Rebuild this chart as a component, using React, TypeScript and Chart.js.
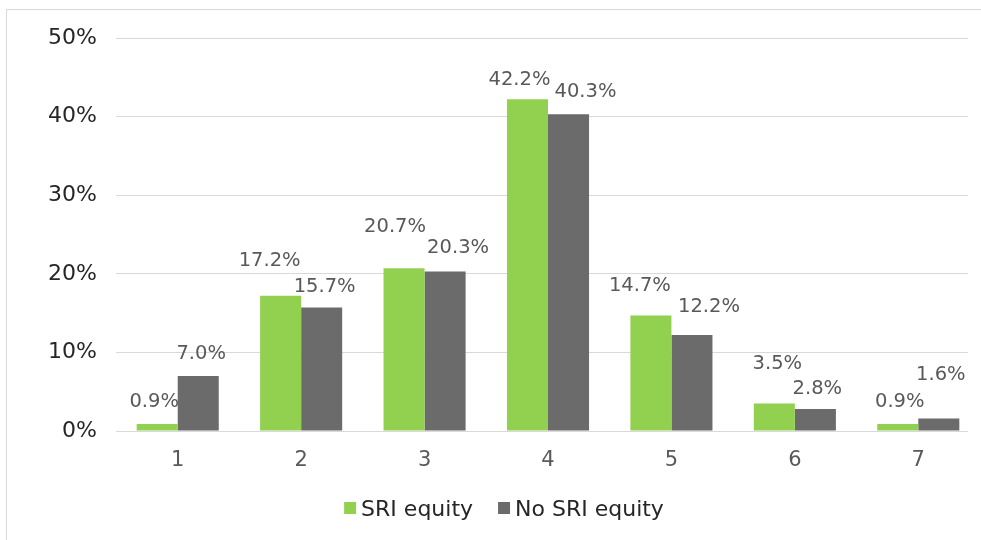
import React, { useEffect, useRef } from "react";
import { Chart, registerables } from "chart.js";

Chart.register(...registerables);

const categories = ["1", "2", "3", "4", "5", "6", "7"];
const sriEquity = [0.9, 17.2, 20.7, 42.2, 14.7, 3.5, 0.9];
const noSriEquity = [7.0, 15.7, 20.3, 40.3, 12.2, 2.8, 1.6];
const seriesNames = ["SRI equity", "No SRI equity"];
const yTicks = [0, 10, 20, 30, 40, 50];

// styling: label nudges [dx, dy above bar top] relative to each bar
const sriLabelNudge = [[-3, 24], [-11, 37], [-9, 43], [-8, 21], [-11, 32], [3, 42], [2, 24]];
const noSriLabelNudge = [[3, 24], [3, 23], [13, 26], [17, 24], [17, 30], [2, 22], [2, 46]];

const GREEN = "#92D050";
const GRAY = "#6b6b6b";
const FONT = "'DejaVu Sans', Verdana, sans-serif";
const GRID_END_INSET = 12;

const gridTrimPlugin = {
  id: "gridTrim",
  beforeDatasetsDraw(chart: any) {
    const { ctx, chartArea } = chart;
    ctx.save();
    ctx.fillStyle = "#ffffff";
    ctx.fillRect(chartArea.right - GRID_END_INSET, chartArea.top - 2, GRID_END_INSET + 2, chartArea.bottom - chartArea.top + 4);
    ctx.restore();
  },
};

const labelsPlugin = {
  id: "valueLabels",
  afterDatasetsDraw(chart: any) {
    const ctx = chart.ctx;
    const fs = 19.5;
    ctx.save();
    ctx.font = `${fs}px ${FONT}`;
    ctx.fillStyle = "#595959";
    ctx.textAlign = "center";
    ctx.textBaseline = "alphabetic";
    chart.data.datasets.forEach((ds: any, di: number) => {
      const meta = chart.getDatasetMeta(di);
      const nudges = di === 0 ? sriLabelNudge : noSriLabelNudge;
      meta.data.forEach((el: any, i: number) => {
        const v = ds.data[i] as number;
        const [dx, dy] = nudges[i];
        ctx.fillText(v.toFixed(1) + "%", el.x + dx, el.y - dy + 0.365 * fs);
      });
    });
    ctx.restore();
  },
};

const legendPlugin = {
  id: "customLegend",
  afterDraw(chart: any) {
    const ctx = chart.ctx;
    const fs = 22;
    ctx.save();
    ctx.font = `${fs}px ${FONT}`;
    const box = 12;
    const gap = 5;
    const itemGap = 25;
    const colors = [GREEN, GRAY];
    const widths = seriesNames.map((n) => ctx.measureText(n).width);
    const total = widths.reduce((a, w) => a + box + gap + w, 0) + itemGap * (seriesNames.length - 1);
    let x = 504 - total / 2;
    const cy = 508;
    seriesNames.forEach((n, i) => {
      ctx.fillStyle = colors[i];
      ctx.fillRect(x, cy - box / 2, box, box);
      x += box + gap;
      ctx.fillStyle = "#262626";
      ctx.textAlign = "left";
      ctx.textBaseline = "alphabetic";
      ctx.fillText(n, x, cy + 0.365 * fs);
      x += widths[i] + itemGap;
    });
    ctx.restore();
  },
};

export default function App() {
  const ref = useRef<HTMLCanvasElement | null>(null);
  useEffect(() => {
    if (!ref.current) return;
    const chart = new Chart(ref.current, {
      type: "bar",
      data: {
        labels: categories,
        datasets: [
          {
            label: seriesNames[0],
            data: sriEquity,
            backgroundColor: GREEN,
            barPercentage: 1,
            categoryPercentage: 0.665,
          },
          {
            label: seriesNames[1],
            data: noSriEquity,
            backgroundColor: GRAY,
            barPercentage: 1,
            categoryPercentage: 0.665,
          },
        ],
      },
      options: {
        responsive: false,
        animation: false,
        layout: { padding: { left: 0, right: 1, top: 38, bottom: 60 } },
        plugins: {
          legend: { display: false },
          tooltip: { enabled: false },
        },
        scales: {
          x: {
            grid: { display: false, drawTicks: false },
            border: { display: false },
            ticks: {
              color: "#595959",
              font: { family: FONT, size: 21 },
              padding: 17,
            },
            afterFit: (s: any) => {
              s.height = 49;
            },
          },
          y: {
            min: 0,
            max: 50,
            afterBuildTicks: (s: any) => {
              s.ticks = yTicks.map((v) => ({ value: v }));
            },
            grid: { color: "#d9d9d9", lineWidth: 1, drawTicks: false },
            border: { display: false },
            ticks: {
              color: "#262626",
              font: { family: FONT, size: 22 },
              padding: 19,
              callback: (v: any) => v + "%",
            },
            afterFit: (s: any) => {
              s.width = 116;
            },
          },
        },
      },
      plugins: [gridTrimPlugin, labelsPlugin, legendPlugin],
    });
    return () => chart.destroy();
  }, []);
  return (
    <div style={{ position: "absolute", left: 0, top: 0, width: 981, height: 540, background: "#fff" }}>
      <div
        style={{
          position: "absolute",
          left: 6,
          top: 9,
          right: 0,
          bottom: 0,
          borderTop: "1px solid #d9d9d9",
          borderLeft: "1px solid #d9d9d9",
        }}
      />
      <canvas ref={ref} width={981} height={540} style={{ position: "absolute", left: 0, top: 0 }} />
    </div>
  );
}
